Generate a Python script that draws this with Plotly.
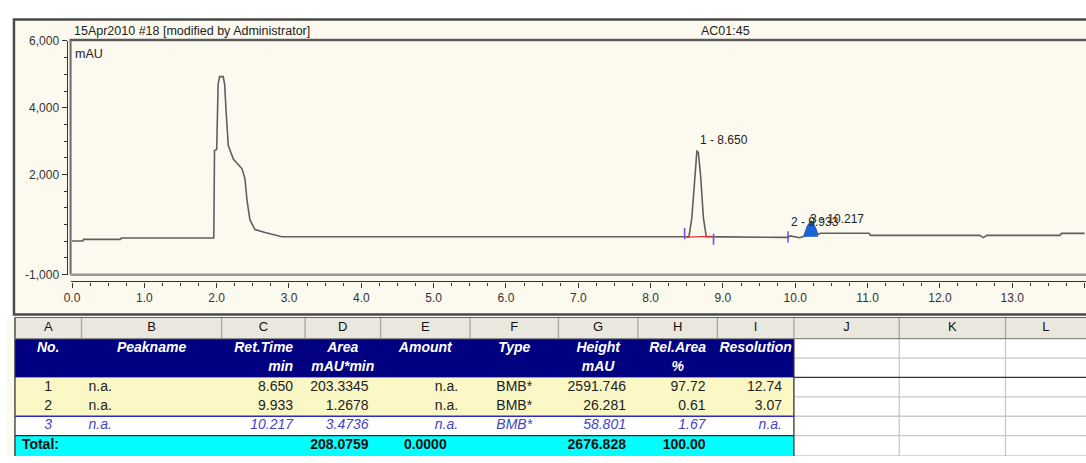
import plotly.graph_objects as go

W, H = 1086, 463
FONT = "Liberation Sans, Arial, sans-serif"

# ---------------- chromatogram ----------------
time_min = [0.00, 0.15, 0.16, 0.67, 0.68, 1.96, 1.97, 2.00, 2.02, 2.04, 2.09, 2.11, 2.13, 2.15, 2.16,
            2.23, 2.35, 2.39, 2.42, 2.46, 2.53, 2.67, 2.78, 2.90, 4.00, 5.00, 6.00, 7.00, 8.00,
            8.53, 8.57, 8.61, 8.64, 8.66, 8.69, 8.73, 8.77, 9.00, 9.85, 9.90, 9.93, 9.97, 10.06,
            10.12, 10.17, 10.21, 10.25, 10.29, 10.31, 10.35, 11.02, 11.04, 12.55, 12.60, 12.65,
            13.66, 13.68, 14.00]
signal_mau = [10, 10, 58, 58, 96, 96, 2720, 2750, 4700, 4930, 4930, 4700, 3900, 3330, 2870,
              2460, 2170, 1880, 1220, 640, 350, 260, 200, 136, 136, 134, 134, 132, 132,
              136, 700, 2000, 2716, 2650, 2000, 700, 136, 132, 132, 116, 160, 140, 107,
              150, 450, 580, 520, 330, 200, 240, 240, 175, 175, 110, 175,
              175, 235, 235]

peak3_time = [10.12, 10.17, 10.21, 10.25, 10.29, 10.31]
peak3_signal = [150, 450, 580, 520, 330, 200]
peak3_floor = 150

peak1_base_time = [8.49, 8.84]
peak1_base_signal = [125, 145]

boundary_time = [8.47, 8.87, 9.90]
boundary_signal = [230, 60, 130]

peak_no = [1, 2, 3]
peak_rt = ["8.650", "9.933", "10.217"]
peak_apex = [2716, 160, 580]

y_tick_vals = [-1000, 2000, 4000, 6000]
y_tick_text = ["-1,000", "2,000", "4,000", "6,000"]

chart_title = "15Apr2010 #18 [modified by Administrator]"
chart_id = "AC01:45"
y_unit = "mAU"

# ---------------- report table ----------------
col_letters = ["A", "B", "C", "D", "E", "F", "G", "H", "I", "J", "K", "L"]
hdr_line1 = ["No.", "Peakname", "Ret.Time", "Area", "Amount", "Type", "Height", "Rel.Area", "Resolution"]
hdr_line2 = ["", "", "min", "mAU*min", "", "", "mAU", "%", ""]
tbl_no = ["1", "2", "3"]
tbl_name = ["n.a.", "n.a.", "n.a."]
tbl_rt = ["8.650", "9.933", "10.217"]
tbl_area = ["203.3345", "1.2678", "3.4736"]
tbl_amount = ["n.a.", "n.a.", "n.a."]
tbl_type = ["BMB*", "BMB*", "BMB*"]
tbl_height = ["2591.746", "26.281", "58.801"]
tbl_relarea = ["97.72", "0.61", "1.67"]
tbl_resolution = ["12.74", "3.07", "n.a."]
total_row = ["Total:", "", "", "208.0759", "0.0000", "", "2676.828", "100.00", ""]

# ---------------- layout constants (px) ----------------
col_w = [67, 141, 84, 76, 90, 89, 80, 80, 77, 106, 107, 81]
row_h = [22, 20, 20, 20, 20, 20, 21]
TABLE_X0, TABLE_Y0 = 8, 320


def px(x):
    return x / W


def py(y):
    return 1 - y / H


fig = go.Figure()

# ======== chromatogram ========
fig.add_trace(go.Scatter(x=time_min, y=signal_mau, mode="lines",
                         line=dict(color="#5f5f5f", width=1.6), hoverinfo="skip"))
fig.add_trace(go.Scatter(x=peak3_time + peak3_time[::-1],
                         y=peak3_signal + [peak3_floor] * len(peak3_time),
                         mode="lines", fill="toself", fillcolor="#1c63d6",
                         line=dict(color="#1c63d6", width=1), hoverinfo="skip"))
fig.add_trace(go.Scatter(x=peak1_base_time, y=peak1_base_signal, mode="lines",
                         line=dict(color="#e03030", width=1.2), hoverinfo="skip"))
fig.add_trace(go.Scatter(x=boundary_time, y=boundary_signal, mode="markers",
                         marker=dict(symbol="line-ns", size=8,
                                     line=dict(color="#7a4fd6", width=1.6)),
                         hoverinfo="skip"))

label_shift = [(0, 2), (-1, 5), (-3, -6)]
for n, rt, apex, (xs, ys) in zip(peak_no, peak_rt, peak_apex, label_shift):
    fig.add_annotation(x=float(rt), y=apex, text=f"{n} - {rt}", showarrow=False,
                       xanchor="left", yanchor="bottom", xshift=xs, yshift=ys,
                       font=dict(family=FONT, size=12, color="#222"))

for txt, x, y in [(chart_title, 65, 25), (chart_id, 696, 25), (y_unit, 66, 48)]:
    fig.add_annotation(xref="paper", yref="paper", x=px(x), y=py(y), text=txt,
                       showarrow=False, xanchor="left", yanchor="middle",
                       font=dict(family=FONT, size=12.5, color="#222"))

CREAM = "#fcfaef"
shapes = [
    dict(type="rect", xref="paper", yref="paper", x0=px(7), x1=1.01, y0=py(317), y1=py(13),
         fillcolor=CREAM, line=dict(color="#4a4a4a", width=2.5), layer="below"),
    dict(type="line", xref="paper", yref="paper", x0=px(63), x1=1.01, y0=py(34), y1=py(34),
         line=dict(color="#5a5a5a", width=2.5), layer="below"),
    dict(type="line", xref="paper", yref="paper", x0=px(64), x1=px(64), y0=py(276), y1=py(34),
         line=dict(color="#6a6a6a", width=2), layer="below"),
    dict(type="line", xref="paper", yref="paper", x0=px(64), x1=1.01, y0=py(276), y1=py(276),
         line=dict(color="#9a9a9a", width=2.5), layer="below"),
]

# ======== table (heatmap cells + text on its own axes) ========
NAVY = "#000080"
YEL = "#fbf8c6"
CYAN = "#00ffff"
GRID = "#c8c8c8"
ROW3 = "#4444c4"
n_main = 9
n_cols = len(col_letters)

col_edges = [TABLE_X0]
for w in col_w:
    col_edges.append(col_edges[-1] + w)
row_edges = [TABLE_Y0]
for h in row_h:
    row_edges.append(row_edges[-1] + h)

# fill codes: 0 header grey, 1 navy, 2 yellow, 3 white, 4 cyan
row_fill = [0, 1, 1, 2, 2, 3, 4]
z = []
for code in row_fill:
    if code == 0:
        z.append([0] * n_cols)
    else:
        z.append([code] * n_main + [3] * (n_cols - n_main))
fill_scale = [[0.0, "#eae8de"], [0.2, "#eae8de"], [0.2, NAVY], [0.4, NAVY],
              [0.4, YEL], [0.6, YEL], [0.6, "#ffffff"], [0.8, "#ffffff"],
              [0.8, CYAN], [1.0, CYAN]]
fig.add_trace(go.Heatmap(z=z, x=col_edges, y=row_edges, colorscale=fill_scale,
                         zmin=-0.5, zmax=4.5, showscale=False, hoverinfo="skip",
                         xaxis="x2", yaxis="y2"))

# grid lines
main_right = col_edges[n_main]
segments = {
    "#a9a69a": [(e, row_edges[0], e, row_edges[1]) for e in col_edges[1:-1]],
    GRID: [(e, row_edges[1], e, row_edges[-1]) for e in col_edges[n_main + 1:-1]]
          + [(main_right, r, col_edges[-1], r) for r in row_edges[2:] if r != row_edges[3]],
    "#333333": [(col_edges[0], row_edges[0], col_edges[-1], row_edges[0]),
                (col_edges[0], row_edges[0], col_edges[0], row_edges[-1]),
                (main_right, row_edges[1], main_right, row_edges[-1]),
                (main_right, row_edges[3], col_edges[-1], row_edges[3]),
                (col_edges[0], row_edges[6], main_right, row_edges[6])],
    "#8a8a8a": [(col_edges[0], row_edges[1], col_edges[-1], row_edges[1])],
    "#2a2ad0": [(col_edges[0], row_edges[5], main_right, row_edges[5])],
}
for color, segs in segments.items():
    xs, ys = [], []
    for x0, y0, x1, y1 in segs:
        xs += [x0, x1, None]
        ys += [y0, y1, None]
    fig.add_trace(go.Scatter(x=xs, y=ys, mode="lines", line=dict(color=color, width=1.3),
                             hoverinfo="skip", xaxis="x2", yaxis="y2"))

# texts
hdr_align = ["center", "center", "right", "center", "center", "center", "center", "center", "center"]
data_align = ["center", "left", "right", "right", "right", "center", "right", "right", "right"]
total_align = ["left", "left", "right", "right", "center", "center", "right", "right", "right"]
data_cols = [tbl_no, tbl_name, tbl_rt, tbl_area, tbl_amount, tbl_type, tbl_height, tbl_relarea, tbl_resolution]

table_rows = [
    (col_letters, ["center"] * n_cols, "#111111", "{}", 13),
    (hdr_line1, hdr_align, "white", "<b><i>{}</i></b>", 14),
    (hdr_line2, hdr_align, "white", "<b><i>{}</i></b>", 14),
    ([c[0] for c in data_cols], data_align, "#222222", "{}", 14),
    ([c[1] for c in data_cols], data_align, "#222222", "{}", 14),
    ([c[2] for c in data_cols], data_align, ROW3, "<i>{}</i>", 14),
    (total_row, total_align, "#111111", "<b>{}</b>", 14),
]
PAD_R, PAD_L = 12, 7
tx, ty, tt, tp, tc, ts = [], [], [], [], [], []
for r, (vals, aligns, color, fmt, size) in enumerate(table_rows):
    yc = (row_edges[r] + row_edges[r + 1]) / 2
    for c, (v, a) in enumerate(zip(vals, aligns)):
        if not v:
            continue
        if a == "right":
            tx.append(col_edges[c + 1] - PAD_R)
            tp.append("middle left")
        elif a == "left":
            tx.append(col_edges[c] + PAD_L)
            tp.append("middle right")
        else:
            tx.append((col_edges[c] + col_edges[c + 1]) / 2)
            tp.append("middle center")
        ty.append(yc)
        tt.append(fmt.format(v))
        tc.append(color)
        ts.append(size)
fig.add_trace(go.Scatter(x=tx, y=ty, text=tt, mode="text", textposition=tp,
                         textfont=dict(family=FONT, size=ts, color=tc),
                         hoverinfo="skip", xaxis="x2", yaxis="y2"))

fig.update_layout(
    width=W, height=H, autosize=False,
    margin=dict(l=0, r=0, t=0, b=0, pad=0),
    paper_bgcolor="white", plot_bgcolor=CREAM,
    showlegend=False,
    shapes=shapes,
    xaxis=dict(domain=[px(64), 1], range=[-0.02, 14.02], anchor="free", position=py(283),
               showline=True, linecolor="#333", linewidth=1.2,
               ticks="outside", ticklen=5, tickcolor="#333", tickwidth=1.2,
               tick0=0, dtick=1, tickformat=".1f",
               tickfont=dict(family=FONT, size=12, color="#333"),
               showgrid=False, zeroline=False,
               minor=dict(dtick=0.25, tick0=0, ticks="outside", ticklen=3, tickcolor="#333")),
    yaxis=dict(domain=[py(276), py(35)], range=[-1000, 6000], anchor="free", position=px(60),
               showline=True, linecolor="#333", linewidth=1.2,
               ticks="outside", ticklen=5, tickcolor="#333", tickwidth=1.2,
               tickmode="array", tickvals=y_tick_vals, ticktext=y_tick_text,
               tickfont=dict(family=FONT, size=12, color="#333"),
               showgrid=False, zeroline=False,
               minor=dict(dtick=500, tick0=0, ticks="outside", ticklen=3, tickcolor="#333")),
    xaxis2=dict(domain=[0, 1], range=[0, W], visible=False, anchor="y2", fixedrange=True),
    yaxis2=dict(domain=[0, py(TABLE_Y0)], range=[H, TABLE_Y0], visible=False, anchor="x2",
                fixedrange=True),
)

fig.write_html("out.html")
